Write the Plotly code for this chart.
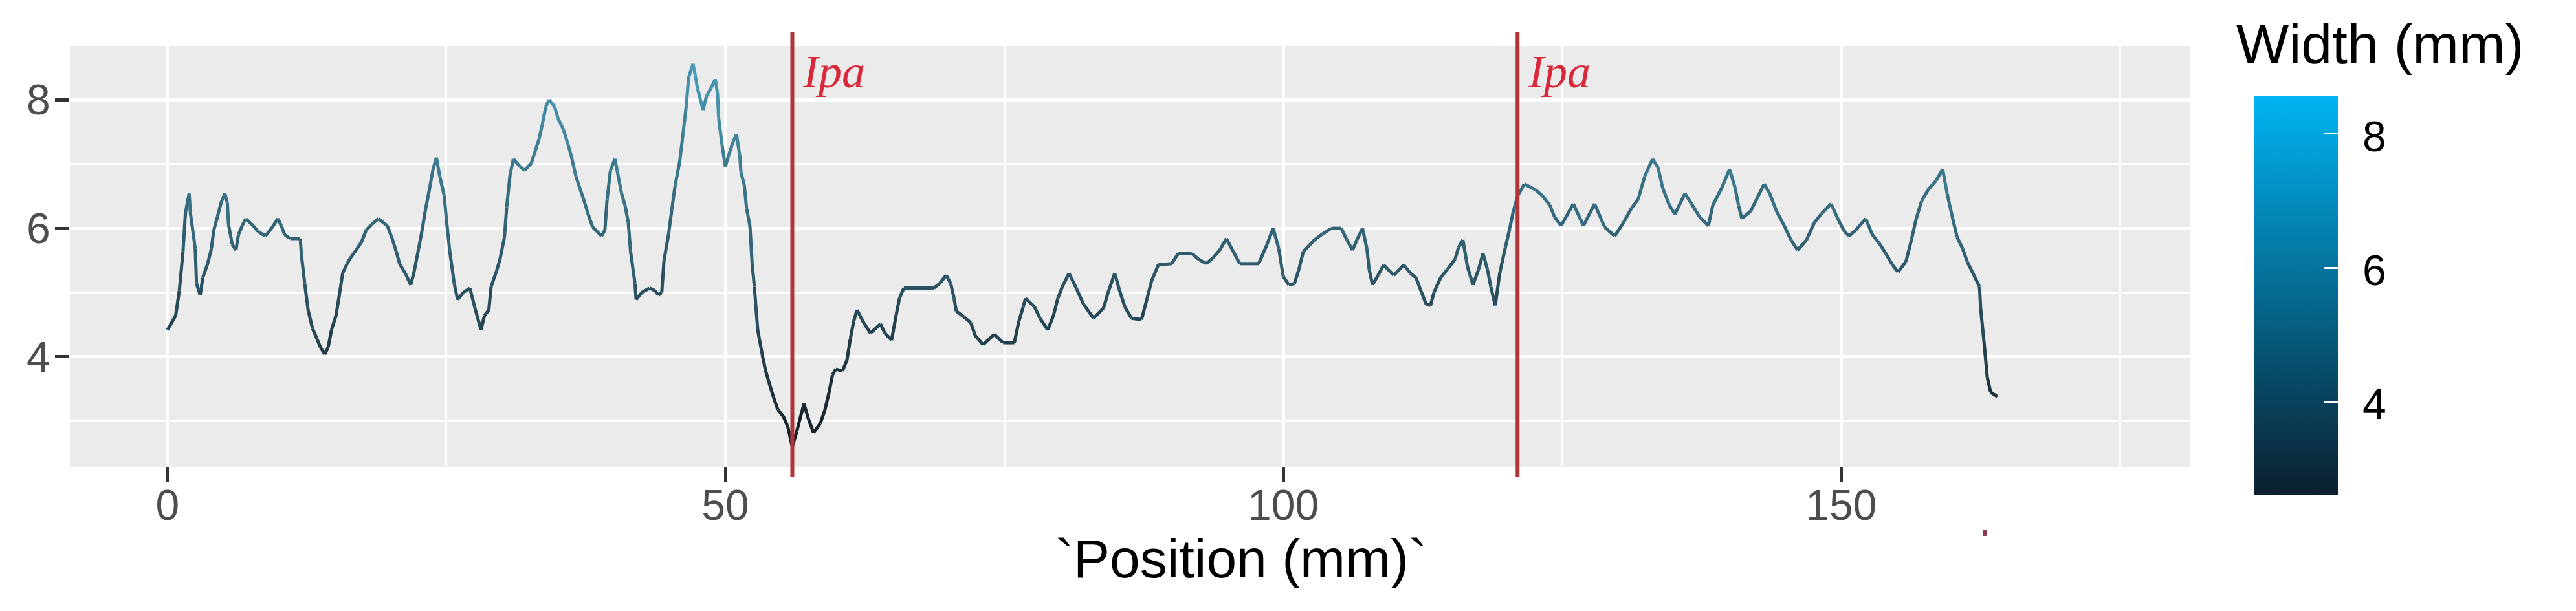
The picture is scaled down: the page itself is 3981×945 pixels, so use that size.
import plotly.graph_objects as go
from plotly.colors import sample_colorscale, unlabel_rgb

# ---------------- data ----------------
position_mm = [
    0, 0.73, 1.06, 1.39, 1.61, 1.94, 2.05, 2.49, 2.6, 2.93, 3.16, 3.6, 3.93, 4.15, 4.48, 4.8,
    5.14, 5.36, 5.47, 5.8, 6.13, 6.36, 6.69, 7.02, 7.68, 8.12, 8.78, 9.33, 9.89, 10.2, 10.5,
    11.0, 11.9, 12.0, 12.3, 12.6, 13.0, 13.4, 13.7, 14.1, 14.4, 14.7, 15.1, 15.4, 15.7, 16.1,
    16.4, 16.9, 17.4, 17.8, 18.3, 18.9, 19.7, 20.1, 20.5, 20.8, 21.4, 21.8, 22.1, 22.5, 22.8,
    23.1, 23.5, 23.8, 24.1, 24.4, 24.8, 25.0, 25.3, 25.7, 26.0, 26.5, 27.1,
    27.6, 28.1, 28.4, 28.8, 29.0, 29.5, 29.8, 30.2, 30.4, 30.7, 31.0, 31.6, 32.0, 32.6, 32.9,
    33.3, 33.6, 33.9, 34.2, 34.7, 35.0, 35.5, 35.9, 36.2, 36.6, 37.0, 37.3, 37.7, 38.1, 38.5,
    38.9, 39.2, 39.4, 39.7, 40.1, 40.3, 40.7, 41.0, 41.3, 41.5, 41.9, 42.0, 42.5, 43.2, 43.7,
    44.0, 44.3, 44.5, 44.9, 45.2, 45.5, 45.9, 46.2, 46.5, 46.7, 47.1, 47.3, 47.5, 48.0, 48.3,
    48.7, 49.1, 49.3, 49.4, 49.7, 50.0, 50.3, 50.7, 51.0, 51.3, 51.4, 51.7, 51.9, 52.2, 52.4,
    52.6, 52.9, 53.3, 53.6, 53.9, 54.3, 54.7, 55.2, 55.6, 56.0, 56.4, 56.8, 57.05, 57.45, 57.9,
    58.5, 58.9, 59.3, 59.6, 59.9, 60.5, 60.9,
    61.2, 61.5, 61.8, 62.4, 63.0, 63.9, 64.3, 64.9, 65.3, 65.6, 66.0, 68.7, 69.2, 69.8, 70.2,
    70.5, 70.7, 71.4, 72.0, 72.4, 73.1, 74.1, 74.9, 75.9, 76.3, 76.7, 76.9, 77.7, 78.2, 78.9,
    79.4, 79.8, 80.2, 80.8, 81.5, 82.1, 83.0, 83.9, 84.3, 84.9, 85.3, 85.8, 86.4, 87.3, 87.8,
    88.2, 88.8, 90.0, 90.6, 91.8, 92.4, 93.1, 93.7, 94.3, 94.9,
    96.1, 97.8, 98.5, 99.1, 99.6, 100.0, 100.5, 101.0, 101.4, 101.8, 102.3, 102.8, 103.5,
    104.3, 105.2, 105.7, 106.2, 106.6, 107.1, 107.5, 107.7, 108.0, 108.5, 109.0, 109.9, 110.8,
    111.4, 111.9, 112.4, 112.8, 113.2, 113.5, 114.1, 114.7, 115.4, 115.7, 116.1, 116.5, 117.0,
    117.5, 117.9, 118.3, 118.6, 119.0, 119.4, 119.9, 120.3, 120.6, 121.0, 121.6,
    122.6, 123.2, 123.9, 124.3, 124.9, 126.0, 126.9, 127.9, 128.8, 129.7, 130.5, 131.2, 131.8,
    132.4, 133.1, 133.6, 134.0, 134.6, 135.1, 136.0, 136.6, 137.3, 138.1, 138.5, 139.3, 140.0,
    140.5, 140.8, 141.1, 141.9, 143.1, 143.6, 144.2, 144.9, 145.5, 146.1, 146.9, 147.6, 148.2,
    149.1, 149.7, 150.3, 150.7, 151.3, 152.2, 152.8, 153.4, 154.0, 154.6, 155.1, 155.8, 156.3,
    156.7, 157.2, 157.8, 158.5, 159.1, 159.5, 160.0, 160.4, 160.9, 161.3, 161.9, 162.4, 162.5,
    162.8, 163.1, 163.4, 164.0,
]
width_mm = [
    4.42, 4.64, 5.03, 5.64, 6.24, 6.54, 6.24, 5.68, 5.14, 4.96, 5.23, 5.45, 5.68, 5.97, 6.18, 6.4,
    6.54, 6.4, 6.06, 5.75, 5.66, 5.9, 6.04, 6.15, 6.04, 5.95, 5.88, 6.0, 6.15, 6.04, 5.9,
    5.84, 5.84, 5.59, 5.14, 4.73, 4.44, 4.28, 4.15, 4.04, 4.15, 4.42, 4.64, 4.96, 5.3, 5.45,
    5.54, 5.66, 5.79, 5.97, 6.06, 6.15, 6.04, 5.86, 5.64, 5.45, 5.27, 5.12, 5.32, 5.68, 5.95,
    6.27, 6.63, 6.92, 7.1, 6.81, 6.51, 6.13, 5.64, 5.14, 4.89, 5.0, 5.07,
    4.73, 4.42, 4.64, 4.73, 5.09, 5.34, 5.52, 5.86, 6.33, 6.83, 7.08, 6.96, 6.9, 7.01, 7.17,
    7.39, 7.62, 7.89, 8.0, 7.89, 7.71, 7.53, 7.3, 7.12, 6.81, 6.6, 6.45, 6.22, 6.02, 5.95,
    5.88, 5.97, 6.45, 6.9, 7.08, 6.9, 6.54, 6.36, 6.09, 5.64, 5.14, 4.89, 5.0, 5.07, 5.03,
    4.96, 5.0, 5.5, 5.9, 6.29, 6.67, 7.03, 7.46, 7.91, 8.34, 8.56, 8.38, 8.18, 7.84, 8.05,
    8.18, 8.32, 8.09, 7.71, 7.3, 6.96, 7.14, 7.35, 7.46, 7.12, 6.87, 6.67, 6.31, 6.04, 5.45,
    5.09, 4.42, 4.04, 3.79, 3.61, 3.38, 3.18, 3.07, 2.91, 2.6, 2.84, 3.11, 3.27, 3.03, 2.82,
    2.96, 3.16, 3.45, 3.72, 3.81, 3.78, 3.95,
    4.28, 4.55, 4.73, 4.53, 4.37, 4.51, 4.37, 4.26, 4.64, 4.91, 5.07, 5.07, 5.14, 5.27, 5.14,
    4.91, 4.71, 4.62, 4.53, 4.33, 4.19, 4.35, 4.22, 4.22, 4.55, 4.78, 4.91, 4.78, 4.6, 4.42,
    4.64, 4.91, 5.09, 5.3, 5.05, 4.82, 4.6, 4.76, 5.0, 5.3, 5.05, 4.78, 4.6, 4.58, 4.91,
    5.18, 5.43, 5.45, 5.61, 5.61, 5.52, 5.45, 5.54, 5.66, 5.84,
    5.45, 5.45, 5.73, 6.0, 5.68, 5.25, 5.12, 5.14, 5.36, 5.64, 5.73, 5.82, 5.91,
    6.0, 6.0, 5.82, 5.66, 5.82, 6.0, 5.68, 5.36, 5.12, 5.27, 5.43, 5.27, 5.43,
    5.3, 5.23, 5.0, 4.82, 4.8, 5.0, 5.23, 5.36, 5.52, 5.7, 5.82, 5.41, 5.12,
    5.36, 5.61, 5.36, 5.09, 4.8, 5.3, 5.7, 6.0, 6.25, 6.5, 6.69,
    6.6, 6.51, 6.36, 6.18, 6.04, 6.38, 6.04, 6.38, 6.02, 5.88, 6.09, 6.31, 6.45,
    6.81, 7.08, 6.94, 6.63, 6.36, 6.22, 6.54, 6.38, 6.18, 6.04, 6.36, 6.63, 6.92,
    6.63, 6.36, 6.15, 6.27, 6.69, 6.54, 6.27, 6.04, 5.82, 5.66, 5.82, 6.09, 6.22,
    6.38, 6.15, 5.95, 5.88, 5.97, 6.15, 5.9, 5.77, 5.61, 5.43, 5.32, 5.48, 5.82,
    6.13, 6.42, 6.6, 6.74, 6.92, 6.54, 6.15, 5.86, 5.68, 5.48, 5.27, 5.09, 4.76,
    4.24, 3.68, 3.45, 3.38,
]
ipa_positions = [56, 121]
ipa_labels = ["Ipa", "Ipa"]
x_ticks = [0, 50, 100, 150]
y_ticks = [4, 6, 8]
cbar_ticks = [4, 6, 8]
stray_mark_x = [162.9]

# ---------------- layout geometry ----------------
W, H = 3981, 945
ML, MR, MT, MB = 100, 604, 63, 231
PW, PH = W - ML - MR, H - MT - MB
X_RANGE = [-8.75, 181.3]
Y_RANGE = [2.289, 8.838]
FONT = "Liberation Sans, Arial, sans-serif"


def px_x(px):
    return (px - ML) / PW


def px_y(py):
    return (H - MB - py) / PH


colorscale = [[0.0, "#0B1F2E"], [1.0, "#00B4F2"]]
cmin, cmax = min(width_mm), max(width_mm)


def soften(rgb_str, k=0.55):
    r, g, b = unlabel_rgb(rgb_str)
    lum = 0.299 * r + 0.587 * g + 0.114 * b
    return "rgb(%d,%d,%d)" % tuple(round(c + (lum - c) * k) for c in (r, g, b))


fig = go.Figure()

# line segments coloured by width (colour of each segment's start point)
fracs = [(v - cmin) / (cmax - cmin) for v in width_mm]
seg_colors = [soften(c) for c in sample_colorscale(colorscale, fracs)]
for i in range(len(position_mm) - 1):
    fig.add_trace(go.Scatter(
        x=[position_mm[i], position_mm[i + 1]],
        y=[width_mm[i], width_mm[i + 1]],
        mode="lines", line=dict(color=seg_colors[i], width=5),
        showlegend=False, hoverinfo="skip"))

# colourbar carrier
CB_LEFT, CB_TOP, CB_BOTTOM, CB_THICK = 3475, 141, 758, 130
fig.add_trace(go.Scatter(
    x=position_mm, y=width_mm, mode="markers",
    marker=dict(size=0.1, opacity=0, color=width_mm, colorscale=colorscale,
                cmin=cmin, cmax=cmax, showscale=True,
                colorbar=dict(
                    thickness=CB_THICK, thicknessmode="pixels",
                    len=(CB_BOTTOM - CB_TOP) / PH, lenmode="fraction",
                    x=px_x(CB_LEFT), xref="paper", xanchor="left",
                    y=px_y(CB_BOTTOM), yref="paper", yanchor="bottom",
                    xpad=0, ypad=0, outlinewidth=0,
                    tickvals=cbar_ticks, ticks="inside", ticklen=22, tickwidth=3,
                    tickcolor="white", showticklabels=False,
                    title=dict(text=""))),
    showlegend=False, hoverinfo="skip"))

shapes = []
annotations = []


def cb_py(v):
    return CB_BOTTOM - (v - cmin) / (cmax - cmin) * (CB_BOTTOM - CB_TOP)


# left-side white ticks and labels of the colourbar
for v in cbar_ticks:
    py = cb_py(v)
    shapes.append(dict(type="line", xref="paper", yref="paper",
                       x0=px_x(CB_LEFT), x1=px_x(CB_LEFT + 22), y0=px_y(py), y1=px_y(py),
                       line=dict(color="white", width=3), layer="above"))
    annotations.append(dict(x=px_x(CB_LEFT + CB_THICK + 36), y=px_y(py + 4), xref="paper",
                            yref="paper", text=str(v), showarrow=False,
                            xanchor="left", yanchor="middle",
                            font=dict(family=FONT, size=66, color="#000000")))
# Ipa vertical lines
for xv in ipa_positions:
    shapes.append(dict(type="line", xref="x", yref="paper", x0=xv, x1=xv,
                       y0=px_y(729), y1=px_y(42),
                       line=dict(color="#B0353B", width=6), layer="above"))
# stray red mark under the axis
for xv in stray_mark_x:
    shapes.append(dict(type="line", xref="x", yref="paper", x0=xv, x1=xv,
                       y0=px_y(821), y1=px_y(811),
                       line=dict(color="#8E3A55", width=6), layer="above"))

for xv, lab in zip(ipa_positions, ipa_labels):
    annotations.append(dict(x=xv + 0.8, y=px_y(103), xref="x", yref="paper",
                            text="<i>" + lab + "</i>", showarrow=False,
                            xanchor="left", yanchor="middle",
                            font=dict(family="Liberation Serif, Times New Roman, serif",
                                      size=72, color="#D8283A")))
annotations.append(dict(x=px_x(1910), y=px_y(856), xref="paper", yref="paper",
                        text="`Position (mm)`", showarrow=False,
                        xanchor="center", yanchor="middle",
                        font=dict(family=FONT, size=84, color="#000000")))
annotations.append(dict(x=px_x(3446), y=px_y(60), xref="paper", yref="paper",
                        text="Width (mm)", showarrow=False,
                        xanchor="left", yanchor="middle",
                        font=dict(family=FONT, size=86, color="#000000")))

axis_common = dict(
    showline=False, zeroline=False, showgrid=True, gridcolor="#FFFFFF", gridwidth=5,
    ticks="outside", ticklen=22, tickwidth=5, tickcolor="#333333",
    tickfont=dict(family=FONT, size=66, color="#4D4D4D"),
)

fig.update_layout(
    width=W, height=H,
    margin=dict(l=ML, r=MR, t=MT, b=MB, autoexpand=False),
    paper_bgcolor="#FFFFFF", plot_bgcolor="#EBEBEB",
    xaxis=dict(range=X_RANGE, tickvals=x_ticks, ticklabelstandoff=-20,
               minor=dict(dtick=25, tick0=0, showgrid=True, gridcolor="#FFFFFF",
                          gridwidth=2.5, ticks=""),
               **axis_common),
    yaxis=dict(range=Y_RANGE, tickvals=y_ticks, ticklabelstandoff=-6,
               minor=dict(dtick=1, tick0=0, showgrid=True, gridcolor="#FFFFFF",
                          gridwidth=2.5, ticks=""),
               **axis_common),
    shapes=shapes, annotations=annotations,
    showlegend=False,
)

fig.write_html("out.html")
